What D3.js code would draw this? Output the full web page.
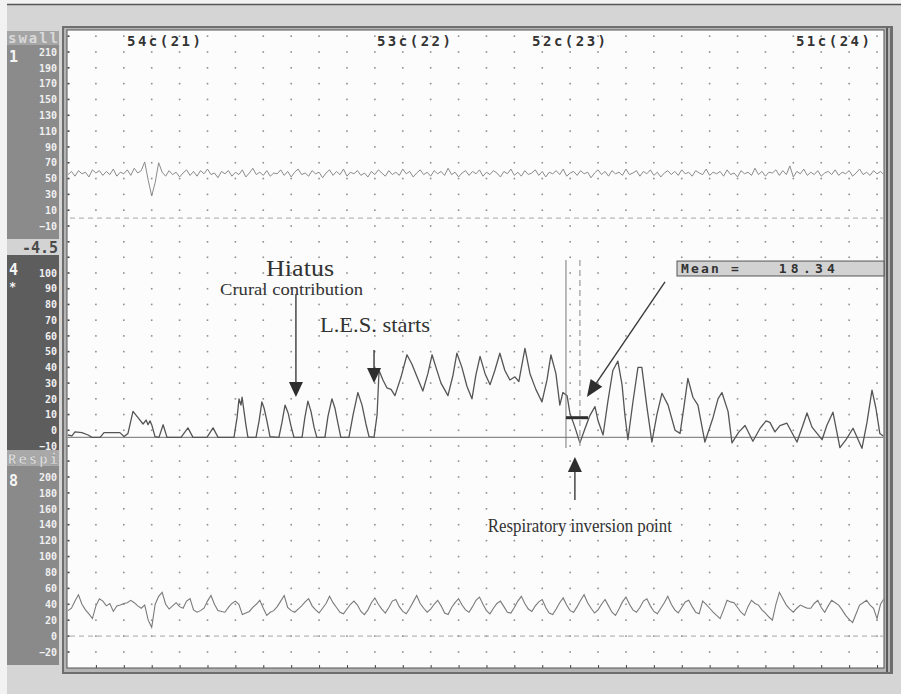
<!DOCTYPE html>
<html><head><meta charset="utf-8">
<script src="https://cdn.jsdelivr.net/npm/d3@7"></script>
<style>html,body{margin:0;padding:0;background:#fff;}svg{display:block}</style>
</head><body>
<svg id="chart" width="901" height="694"></svg>
<script>
// ---- recorded channels (sample step in grid units) ----
const step = 0.125;

// channel 1 "swall" (mmHg)
const swallTrace = [
55,59,53,60,56,58,52,61,57,60,
54,59,55,62,53,58,56,61,54,63,
57,60,71,48,28,45,70,58,53,60,
55,58,52,57,61,54,59,53,60,56,
62,55,57,51,59,56,60,53,58,55,
61,52,57,63,55,58,54,60,53,57,
56,61,54,59,52,58,62,55,57,53,
60,56,58,51,57,61,54,59,55,62,
53,58,56,60,54,57,52,59,55,61,
57,53,60,55,58,54,62,56,59,52,
57,61,55,58,53,60,56,59,54,63,
55,58,52,57,60,54,59,56,61,53,
58,55,60,57,52,59,56,62,54,58,
53,60,55,57,61,54,59,52,58,56,
60,55,62,53,57,59,54,60,56,58,
51,57,61,55,59,53,60,56,58,54,
62,55,57,60,53,59,56,61,54,58,
52,57,60,55,59,54,61,56,58,53,
60,57,55,62,54,58,56,59,53,61,
55,57,52,60,56,58,54,63,55,59,
53,58,57,61,54,60,55,66,52,59,
56,62,54,58,55,60,53,57,59,55,
61,54,58,56,60,53,57,62,55,58,
54,60,56,59,55
];

// channel 8 "Respi"
const respTrace = [
32,35,44,52,40,33,28,22,38,47,
44,38,41,31,38,39,41,42,45,42,
38,35,39,20,11,40,50,55,40,34,
38,42,37,35,44,47,33,30,32,35,
44,51,40,32,31,30,36,41,44,40,
27,29,31,36,40,45,35,26,30,32,
37,44,51,36,32,30,34,38,43,47,
38,33,29,35,41,50,42,36,30,28,
34,40,44,39,31,27,33,42,48,40,
34,29,36,44,46,37,31,28,35,43,
51,41,35,30,34,40,45,38,29,27,
36,42,47,39,33,30,37,45,49,40,
32,28,35,41,44,37,30,29,36,44,
50,41,34,31,38,43,46,36,29,27,
34,42,48,39,32,30,37,45,52,42,
35,29,33,40,46,38,30,26,34,43,
49,40,33,30,36,44,47,38,31,28,
35,42,50,40,33,29,36,43,45,37,
30,28,44,40,35,30,26,22,33,45,
43,42,36,30,26,37,45,41,39,33,
29,24,20,40,55,47,39,34,30,35,
39,37,35,35,41,45,36,30,38,45,
42,39,33,26,21,17,28,39,42,45,
39,35,22,40,47,45
];

// channel 4 LES pressure: sample times (grid units) and values (mmHg)
const lesTime = [
0,0.14,0.25,0.5,0.72,0.86,1.15,1.29,1.58,1.86,2.01,2.15,2.33,2.51,2.69,2.8,2.87,2.94,3.01,3.12,
3.26,3.41,3.55,4.05,4.3,4.48,4.98,5.2,5.38,5.95,6.06,6.13,6.2,6.24,6.31,6.38,6.45,6.74,6.85,6.95,
7.03,7.13,7.24,7.56,7.67,7.78,7.89,7.99,8.1,8.39,8.49,8.6,8.71,8.82,8.92,9.21,9.32,9.46,9.57,9.68,
9.78,10.07,10.22,10.39,10.54,10.68,10.79,10.97,11.08,11.15,11.29,11.43,11.58,11.72,11.94,12.15,12.33,12.51,12.72,12.9,
13.05,13.19,13.37,13.62,13.8,13.94,14.12,14.3,14.48,14.62,14.77,14.95,15.13,15.3,15.48,15.66,15.84,16.02,16.16,16.38,
16.56,16.77,16.99,17.17,17.31,17.49,17.63,17.74,17.89,17.99,18.17,18.35,18.53,18.71,18.89,19.0,19.18,19.35,19.53,19.71,
19.86,19.96,20.07,20.25,20.43,20.57,20.75,20.93,21.11,21.29,21.51,21.76,21.94,22.08,22.22,22.4,22.58,22.83,23.12,23.3,
23.44,23.66,23.8,24.05,24.27,24.55,24.8,25.02,25.16,25.34,25.52,25.77,26.13,26.34,26.49,26.67,27.03,27.2,27.42,27.67,
27.89,28.14,28.46,28.64,28.82,28.96,29.1,29.25
];
const lesPressure = [
-3,-3.5,-1,-1.5,-3,-4.5,-4.5,-1.5,-1.5,-1.5,-4,-2,12,8,4,6.5,3.5,6,3,-4,
-4.5,3.5,-4.5,-4.5,1.5,-4.5,-4.5,1.5,-4.5,-4.5,8,20,16,21,12,3,-4.5,-4.5,6,18,
14,6,-4,-4.5,5,16,11,3,-4.5,-4.5,8,18.5,12,2,-4.5,-4.5,9,20,14,4,
-4.5,-4.5,10,24,16,4,-4,-4.5,10,38,32,27,26,22,34,48,42,34,25,36,
48,40,30,22,35,49,40,28,20,35,47,36,29,38,49,38,32,34,31,52,
36,26,18,32,48,36,16,24,22,11,2,-8,1,9.5,15,6,-3,18,38,44,
29,10,-6,18,40,40,15,-7.5,10,23.5,16,0,-2,15,33,21,16,-7.5,8,20,
24,12,-8,-1,3,-7,1,6,5,-1,3,4.5,-7.5,3,11,2,-6,3,11.5,-11,
-6,1.3,-11.5,5,25.5,14,-2,-4
];

// axis ticks per channel
const swallTicks = [210,190,170,150,130,110,90,70,50,30,10,-10];
const lesTicks = [100,90,80,70,60,50,40,30,20,10,0,-10];
const respTicks = [200,180,160,140,120,100,80,60,40,20,0,-20];

// catheter site labels along the top
const siteLabels = ["54c(21)","53c(22)","52c(23)","51c(24)"];
const siteTimes = [3.44,12.4,17.96,27.42];

// measurement cursors and result
const cursorTimes = [17.85, 18.35];
const meanValue = 18.34;
const lesBaseline = -4.5;
const cursorLevel = 8;

// ---- drawing ----
const svg = d3.select("#chart");
const W = 901, H = 694;
const mono = "'DejaVu Sans Mono', monospace";
const serif = "'Liberation Serif', 'Times New Roman', serif";

svg.append("rect").attr("width", W).attr("height", H).attr("fill", "#f2f2f2");
svg.append("rect").attr("x", 7).attr("y", 5).attr("width", W - 7).attr("height", H - 5).attr("fill", "#d5d5d5");
svg.append("line").attr("x1", 7).attr("x2", W).attr("y1", 4.5).attr("y2", 4.5)
  .attr("stroke", "#555").attr("stroke-width", 1.5);

// side panel blocks
const side = [
  {y: 31, h: 14, fill: "#a5a5a5"},
  {y: 45, h: 194, fill: "#8b8b8b"},
  {y: 239, h: 16, fill: "#d3d3d3"},
  {y: 255, h: 195, fill: "#5d5d5d"},
  {y: 450, h: 16, fill: "#a9a9a9"},
  {y: 466, h: 199, fill: "#8a8a8a"}
];
svg.selectAll("rect.side").data(side).enter().append("rect")
  .attr("x", 7).attr("width", 52).attr("y", d => d.y).attr("height", d => d.h).attr("fill", d => d.fill);

svg.append("text").attr("x", 8).attr("y", 43).text("swall")
  .attr("font-family", mono).attr("font-weight", "bold").attr("font-size", 14)
  .attr("fill", "#d9d9d9").attr("textLength", 50);
svg.append("text").attr("x", 58).attr("y", 253).attr("text-anchor", "end").text(String(lesBaseline))
  .attr("font-family", mono).attr("font-weight", "bold").attr("font-size", 15)
  .attr("fill", "#4a4a4a");
svg.append("text").attr("x", 8).attr("y", 464).text("Respi")
  .attr("font-family", mono).attr("font-weight", "bold").attr("font-size", 14)
  .attr("fill", "#e2e2e2").attr("stroke", "#8a8a8a").attr("stroke-width", 0.4).attr("textLength", 50);

[["1", 62, 15], ["4", 275, 15], ["*", 291, 12], ["8", 486, 15]].forEach(([t, y, s]) => {
  svg.append("text").attr("x", 9).attr("y", y).text(t)
    .attr("font-family", mono).attr("font-weight", "bold").attr("font-size", s)
    .attr("fill", "#f4f4f4");
});

// frame
svg.append("rect").attr("x", 62).attr("y", 26).attr("width", 831).attr("height", 648).attr("fill", "#6e6e6e");
svg.append("rect").attr("x", 64).attr("y", 28).attr("width", 826).attr("height", 644).attr("fill", "#b4b4b4");
svg.append("rect").attr("x", 886).attr("y", 28).attr("width", 2).attr("height", 644).attr("fill", "#5a5a5a");
svg.append("rect").attr("x", 67).attr("y", 30).attr("width", 817).attr("height", 638)
  .attr("fill", "#fcfcfc").attr("stroke", "#555").attr("stroke-width", 1);

// scales
const x = d3.scaleLinear().domain([0, 29.25]).range([68, 884]);
const y1 = d3.scaleLinear().domain([210, -10]).range([52, 226]);
const y4 = d3.scaleLinear().domain([100, -10]).range([273, 446]);
const y8 = d3.scaleLinear().domain([200, -20]).range([477, 652]);

svg.append("clipPath").attr("id", "plotClip").append("rect")
  .attr("x", 67.5).attr("y", 30.5).attr("width", 816).attr("height", 637);
const plot = svg.append("g").attr("clip-path", "url(#plotClip)");

// dotted grid
const cols = d3.range(1, 30);
const rows = [].concat(
  d3.range(230, -31, -20).map(v => y1(v)),
  d3.range(110, -11, -10).map(v => y4(v)),
  d3.range(220, -21, -20).map(v => y8(v))
);
rows.forEach(ry => {
  plot.selectAll(null).data(cols).enter().append("rect")
    .attr("x", c => x(c) - 0.8).attr("y", ry - 0.8).attr("width", 1.6).attr("height", 1.6)
    .attr("fill", "#8f8f8f");
  plot.append("rect").attr("x", 67).attr("y", ry - 0.8).attr("width", 2.5).attr("height", 1.6).attr("fill", "#444");
});

// bottom tick marks
const xAxis = svg.append("g").attr("transform", "translate(0,668)")
  .call(d3.axisBottom(x).tickValues(cols).tickSize(-3).tickFormat(""));
xAxis.select(".domain").remove();
xAxis.selectAll(".tick line").attr("stroke", "#444");

// side axes
function sideAxis(scale, ticks) {
  const g = svg.append("g").attr("transform", "translate(57,0)")
    .call(d3.axisLeft(scale).tickValues(ticks).tickSize(0).tickPadding(0));
  g.select(".domain").remove();
  g.selectAll("text").attr("font-family", mono).attr("font-weight", "bold")
    .attr("font-size", 10).attr("fill", "#f0f0f0");
}
sideAxis(y1, swallTicks);
sideAxis(y4, lesTicks);
sideAxis(y8, respTicks);

// reference lines
plot.append("line").attr("x1", 70).attr("x2", 884).attr("y1", y1(0)).attr("y2", y1(0))
  .attr("stroke", "#a5a5a5").attr("stroke-dasharray", "5,4");
plot.append("line").attr("x1", 70).attr("x2", 884).attr("y1", y8(0)).attr("y2", y8(0))
  .attr("stroke", "#a5a5a5").attr("stroke-dasharray", "5,4");
plot.append("line").attr("x1", 67).attr("x2", 884).attr("y1", y4(lesBaseline)).attr("y2", y4(lesBaseline))
  .attr("stroke", "#8a8a8a").attr("stroke-width", 1.3);

// traces
const lineSwall = d3.line().x((d, i) => x(i * step)).y(d => y1(d));
const lineResp = d3.line().x((d, i) => x(i * step)).y(d => y8(d));
const lineLes = d3.line().x(d => x(d[0])).y(d => y4(d[1]));

plot.append("path").attr("d", lineSwall(swallTrace)).attr("fill", "none")
  .attr("stroke", "#8a8a8a").attr("stroke-width", 1);
plot.append("path").attr("d", lineResp(respTrace)).attr("fill", "none")
  .attr("stroke", "#7a7a7a").attr("stroke-width", 1.1);
plot.append("path").attr("d", lineLes(d3.zip(lesTime, lesPressure))).attr("fill", "none")
  .attr("stroke", "#555").attr("stroke-width", 1.3).attr("stroke-linejoin", "round");

// cursors
plot.append("line").attr("x1", x(cursorTimes[0])).attr("x2", x(cursorTimes[0]))
  .attr("y1", y4(108.3)).attr("y2", y4(-11.3)).attr("stroke", "#777").attr("stroke-width", 1);
plot.append("line").attr("x1", x(cursorTimes[1])).attr("x2", x(cursorTimes[1]))
  .attr("y1", y4(108.3)).attr("y2", y4(-11.3)).attr("stroke", "#999").attr("stroke-width", 1.2)
  .attr("stroke-dasharray", "6,4");
plot.append("line").attr("x1", x(cursorTimes[0])).attr("x2", x(18.64))
  .attr("y1", y4(cursorLevel)).attr("y2", y4(cursorLevel)).attr("stroke", "#2e2e2e").attr("stroke-width", 3);

// site labels
svg.selectAll("text.site").data(siteLabels).enter().append("text")
  .attr("x", (d, i) => x(siteTimes[i])).attr("y", 46).attr("text-anchor", "middle")
  .attr("font-family", mono).attr("font-weight", "bold").attr("font-size", 14)
  .attr("fill", "#333").attr("textLength", 74).text(d => d);

// mean readout box
svg.append("rect").attr("x", x(21.83)).attr("y", y4(107.6)).attr("width", 884 - x(21.83))
  .attr("height", y4(98.1) - y4(107.6)).attr("fill", "#d2d2d2").attr("stroke", "#555").attr("stroke-width", 1);
svg.append("text").attr("x", x(21.97)).attr("y", y4(100)).text("Mean =")
  .attr("font-family", mono).attr("font-weight", "bold").attr("font-size", 13).attr("fill", "#333")
  .attr("textLength", 58);
svg.append("text").attr("x", x(25.48)).attr("y", y4(100)).text(meanValue.toFixed(2))
  .attr("font-family", mono).attr("font-weight", "bold").attr("font-size", 13).attr("fill", "#333")
  .attr("textLength", 56);

// annotations
function arrow(x0, yA, x1, yB, head = 15, half = 7) {
  const dx = x1 - x0, dy = yB - yA, len = Math.hypot(dx, dy);
  const ux = dx / len, uy = dy / len;
  const bx = x1 - ux * head, by = yB - uy * head;
  svg.append("line").attr("x1", x0).attr("y1", yA).attr("x2", bx).attr("y2", by)
    .attr("stroke", "#3a3a3a").attr("stroke-width", 1.4);
  svg.append("path")
    .attr("d", `M${x1},${yB}L${bx - uy * half},${by + ux * half}L${bx + uy * half},${by - ux * half}Z`)
    .attr("fill", "#2e2e2e");
}
function note(t, v, txt, size, len) {
  svg.append("text").attr("x", x(t)).attr("y", y4(v)).text(txt)
    .attr("font-family", serif).attr("font-size", size).attr("fill", "#333")
    .attr("textLength", len).attr("lengthAdjust", "spacingAndGlyphs");
}
note(7.10, 98.1, "Hiatus", 23, 68);
note(5.45, 85.9, "Crural contribution", 17.5, 143);
note(9.03, 62.5, "L.E.S. starts", 21, 110);
note(15.05, -64.7, "Respiratory inversion point", 18, 184);

arrow(x(8.17), y4(86.5), x(8.17), y4(21.2));
arrow(x(10.97), y4(51.0), x(10.97), y4(30.1));
arrow(x(21.40), y4(94.3), x(18.60), y4(21.2), 17, 7);
arrow(x(18.17), y4(-44.3), x(18.17), y4(-17.0));
</script></body></html>
